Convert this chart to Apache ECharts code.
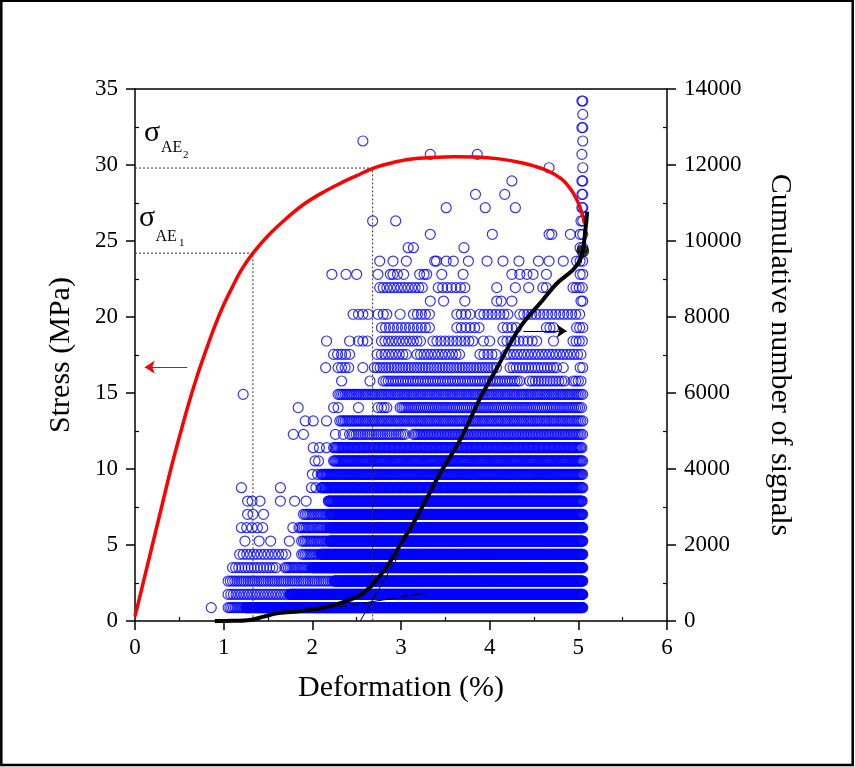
<!DOCTYPE html>
<html>
<head>
<meta charset="utf-8">
<script src="https://cdn.jsdelivr.net/npm/echarts@6.0.0/dist/echarts.min.js"></script>
<style>
html, body { margin: 0; padding: 0; background: #fff; }
#chart { width: 855px; height: 767px; }
</style>
</head>
<body>
<div id="chart"></div>
<script>
// stress-deformation curve (left axis, MPa)
const stressX = [0, 0.1, 0.2, 0.3, 0.4, 0.5, 0.6, 0.7, 0.8, 0.9, 1.0, 1.1, 1.2, 1.33, 1.5, 1.7, 1.9, 2.09, 2.3, 2.5, 2.69, 2.9, 3.1, 3.35, 3.6, 3.85, 4.08, 4.3, 4.45, 4.6, 4.72, 4.83, 4.92, 4.98, 5.02, 5.05, 5.07];
const stressY = [0.3, 2.7, 5.1, 7.5, 9.9, 12.1, 14.2, 16.1, 17.8, 19.4, 20.8, 22.0, 23.1, 24.2, 25.35, 26.45, 27.4, 28.1, 28.75, 29.3, 29.8, 30.15, 30.38, 30.5, 30.55, 30.52, 30.42, 30.22, 30.02, 29.75, 29.42, 28.98, 28.35, 27.75, 27.2, 26.65, 26.15];

// cumulative number of AE signals (right axis)
const cumX = [0.9, 1.1, 1.3, 1.45, 1.6, 1.79, 2.09, 2.31, 2.54, 2.69, 2.84, 2.99, 3.18, 3.44, 3.67, 3.89, 4.08, 4.34, 4.6, 4.76, 4.94, 5.02, 5.05, 5.08, 5.1];
const cumY = [0, 5, 26, 115, 200, 245, 335, 465, 684, 992, 1430, 2000, 2745, 3880, 4780, 5850, 6650, 7720, 8449, 8888, 9238, 9502, 9738, 10300, 10772];

// discrete signal levels (left axis units), level 1 .. 39
const signalLevels = [0.88, 1.75, 2.63, 3.51, 4.39, 5.26, 6.14, 7.02, 7.89, 8.77, 9.65, 10.53, 11.40, 12.28, 13.16, 14.04, 14.91, 15.79, 16.67, 17.54, 18.42, 19.30, 20.18, 21.05, 21.93, 22.81, 23.68, 24.56, 25.44, 26.32, 27.19, 28.07, 28.95, 29.82, 30.70, 31.58, 32.46, 33.33, 34.21];

// crowded runs of signals: [level, from x, to x, observed spacing]
const denseBands = [
  [1, 1.05, 1.25, 0.02], [1, 1.25, 5.05, 0.005],
  [2, 1.05, 1.75, 0.03], [2, 1.75, 5.05, 0.005],
  [3, 1.05, 2.25, 0.025], [3, 2.25, 5.05, 0.005],
  [4, 1.10, 1.60, 0.035], [4, 1.69, 2.0, 0.02], [4, 2.0, 5.05, 0.005],
  [5, 1.18, 1.71, 0.04], [5, 1.88, 2.1, 0.02], [5, 2.1, 5.05, 0.005],
  [6, 1.88, 2.2, 0.02], [6, 2.2, 5.05, 0.006],
  [7, 1.20, 1.46, 0.06], [7, 1.85, 2.2, 0.02], [7, 2.2, 5.05, 0.006],
  [8, 1.90, 2.2, 0.02], [8, 2.2, 5.05, 0.007],
  [9, 2.18, 5.05, 0.008],
  [10, 2.10, 5.05, 0.01],
  [11, 2.10, 5.05, 0.011],
  [12, 2.24, 5.05, 0.012],
  [13, 2.24, 5.05, 0.014],
  [14, 2.42, 3.06, 0.025], [14, 3.14, 5.05, 0.018],
  [15, 2.31, 5.05, 0.02],
  [16, 2.78, 2.84, 0.03], [16, 2.99, 5.05, 0.022],
  [17, 2.29, 5.05, 0.02],
  [18, 2.80, 4.34, 0.028], [18, 4.45, 4.87, 0.033], [18, 4.94, 5.05, 0.03],
  [19, 2.29, 2.42, 0.04], [19, 2.70, 4.08, 0.032], [19, 4.23, 4.76, 0.035],
  [20, 2.24, 2.42, 0.045], [20, 2.78, 3.06, 0.04], [20, 3.18, 3.67, 0.04], [20, 3.89, 4.08, 0.045], [20, 4.19, 5.05, 0.04],
  [21, 2.52, 2.63, 0.05], [21, 2.78, 3.25, 0.04], [21, 3.36, 3.82, 0.045], [21, 4.15, 4.34, 0.045], [21, 4.38, 4.53, 0.05], [21, 4.94, 5.05, 0.035],
  [22, 2.78, 3.36, 0.045], [22, 3.63, 3.89, 0.05], [22, 4.15, 4.34, 0.05], [22, 4.64, 4.72, 0.04], [22, 4.98, 5.05, 0.035],
  [23, 3.14, 3.33, 0.045], [23, 3.63, 3.78, 0.05], [23, 3.89, 4.23, 0.045], [23, 4.34, 5.05, 0.045],
  [25, 2.76, 3.25, 0.04], [25, 3.42, 3.74, 0.05], [25, 4.94, 5.05, 0.035]
];

// single signals: [level, x values]
const sparseHits = [
  [1, [0.86]],
  [6, [1.24, 1.40, 1.53, 1.74]],
  [7, [1.78]],
  [8, [1.27, 1.33, 1.45]],
  [9, [1.27, 1.32, 1.41, 1.64, 1.80, 1.93]],
  [10, [1.20, 1.64, 1.99, 2.04]],
  [11, [2.00, 2.06]],
  [12, [2.03, 2.07]],
  [13, [2.01, 2.08, 2.16]],
  [14, [1.785, 1.90, 2.26, 2.35]],
  [15, [1.92, 2.01, 2.16]],
  [16, [1.84, 2.24, 2.29, 2.52, 2.74]],
  [17, [1.22]],
  [18, [2.33, 2.65]],
  [19, [2.15, 2.57, 4.83, 5.02, 5.05]],
  [20, [2.73]],
  [21, [2.16, 2.42, 3.93, 4.00, 4.72]],
  [23, [2.46, 2.52, 2.57, 2.63, 2.74, 2.80, 2.84, 2.99]],
  [24, [3.33, 3.48, 3.72, 4.08, 4.13, 4.25, 5.03, 5.05]],
  [25, [4.08, 4.29, 4.44, 4.60, 4.64]],
  [26, [2.22, 2.38, 2.50, 2.74, 2.88, 2.91, 2.96, 3.03, 3.21, 3.26, 3.29, 3.46, 3.70, 4.25, 4.34, 4.42, 4.49, 4.64, 5.02, 5.05]],
  [27, [2.76, 2.91, 3.06, 3.38, 3.40, 3.51, 3.59, 3.76, 3.97, 4.15, 4.33, 4.55, 4.67, 4.83, 4.98, 5.02, 5.05]],
  [28, [3.08, 3.14, 3.71, 5.02, 5.05]],
  [29, [3.33, 4.03, 4.67, 4.70, 4.91, 5.02, 5.05]],
  [30, [2.68, 2.94, 5.03, 5.05]],
  [31, [3.51, 3.95, 4.29, 5.04, 5.05]],
  [32, [3.84, 4.17, 5.04, 5.05]],
  [33, [4.25, 5.04, 5.05]],
  [34, [4.67, 5.05]],
  [35, [3.33, 3.86, 5.04]],
  [36, [2.57, 5.05]],
  [37, [5.04, 5.05]],
  [38, [5.05]],
  [39, [5.04, 5.05]]
];

// characteristic stresses and the tangent construction
const sigmaAE1 = [1.33, 24.2];
const sigmaAE2 = [2.68, 29.8];
const tangentSteep = [[2.54, 0], [2.99, 1790]];
const tangentFlat = [[2.3, 370], [3.3, 740]];
const turnPoint = [5.05, 9738];

const hitPoints = [];
denseBands.forEach(([lv, x0, x1, gap]) => {
  for (let x = x0; x <= x1 + 1e-9; x += gap) {
    hitPoints.push([+x.toFixed(4), signalLevels[lv - 1]]);
  }
});
sparseHits.forEach(([lv, xs]) => {
  xs.forEach(x => hitPoints.push([x, signalLevels[lv - 1]]));
});

const serif = 'Liberation Serif';
const tickFont = { fontFamily: serif, fontSize: 23, color: '#000' };
const nameFont = { fontFamily: serif, fontSize: 30, color: '#000' };
const axLine = { show: true, onZero: false, lineStyle: { color: '#000', width: 1.5 } };
const noAxLine = { show: false };

const chart = echarts.init(document.getElementById('chart'));
chart.setOption({
  animation: false,
  backgroundColor: '#fff',
  textStyle: { fontFamily: serif },
  grid: [
    { left: 135, right: 188, top: 89, bottom: 146 },
    { left: 179.33, right: 232.33, top: 89, bottom: 146 },
    { left: 135, right: 188, top: 127, bottom: 184 }
  ],
  xAxis: [
    {
      gridIndex: 0, type: 'value', position: 'bottom', min: 0, max: 6, interval: 1,
      name: 'Deformation (%)', nameLocation: 'middle', nameGap: 52, nameTextStyle: nameFont,
      axisLine: axLine,
      axisTick: { show: true, inside: false, length: 9, lineStyle: { color: '#000', width: 1.5 } },
      axisLabel: Object.assign({ margin: 15 }, tickFont),
      splitLine: { show: false }
    },
    {
      gridIndex: 0, type: 'value', position: 'top', min: 0, max: 6,
      axisLine: axLine, axisTick: { show: false }, axisLabel: { show: false }, splitLine: { show: false }
    },
    {
      gridIndex: 1, type: 'value', position: 'bottom', min: 0.5, max: 5.5, interval: 1,
      axisLine: noAxLine,
      axisTick: { show: true, inside: true, length: 4, lineStyle: { color: '#000', width: 1.2 } },
      axisLabel: { show: false }, splitLine: { show: false }
    },
    { gridIndex: 2, type: 'value', show: false, min: 0, max: 1 }
  ],
  yAxis: [
    {
      gridIndex: 0, type: 'value', position: 'left', min: 0, max: 35, interval: 5,
      name: 'Stress (MPa)', nameLocation: 'middle', nameGap: 59, nameRotate: 90, nameTextStyle: nameFont,
      axisLine: axLine,
      axisTick: { show: true, inside: false, length: 9, lineStyle: { color: '#000', width: 1.5 } },
      axisLabel: Object.assign({ margin: 17 }, tickFont),
      splitLine: { show: false }
    },
    {
      gridIndex: 0, type: 'value', position: 'right', min: 0, max: 14000, interval: 2000,
      name: 'Cumulative number of signals', nameLocation: 'middle', nameGap: 98, nameRotate: -90, nameTextStyle: nameFont,
      axisLine: axLine,
      axisTick: { show: true, inside: false, length: 9, lineStyle: { color: '#000', width: 1.5 } },
      axisLabel: Object.assign({ margin: 17, formatter: v => String(v) }, tickFont),
      splitLine: { show: false }
    },
    { gridIndex: 1, type: 'value', show: false, min: 0, max: 1 },
    {
      gridIndex: 2, type: 'value', position: 'left', min: 2.5, max: 32.5, interval: 5,
      axisLine: noAxLine,
      axisTick: { show: true, inside: true, length: 4, lineStyle: { color: '#000', width: 1.2 } },
      axisLabel: { show: false }, splitLine: { show: false }
    },
    {
      gridIndex: 2, type: 'value', position: 'right', min: 1000, max: 13000, interval: 2000,
      axisLine: noAxLine,
      axisTick: { show: true, inside: true, length: 4, lineStyle: { color: '#000', width: 1.2 } },
      axisLabel: { show: false }, splitLine: { show: false }
    }
  ],
  graphic: [
    {
      type: 'rect', z: -10, silent: true,
      shape: { x: 1.3, y: 0.8, width: 851.4, height: 764.2 },
      style: { fill: 'transparent', stroke: '#000', lineWidth: 2.5 }
    },
    { type: 'text', silent: true, style: { x: 144, y: 133.5, text: 'σ', font: '30px "Liberation Serif"', fill: '#000', verticalAlign: 'middle' } },
    { type: 'text', silent: true, style: { x: 161, y: 148, text: 'AE', font: '16px "Liberation Serif"', fill: '#000', verticalAlign: 'middle' } },
    { type: 'text', silent: true, style: { x: 183, y: 155.5, text: '2', font: '11px "Liberation Serif"', fill: '#000', verticalAlign: 'middle' } },
    { type: 'text', silent: true, style: { x: 139, y: 218.5, text: 'σ', font: '30px "Liberation Serif"', fill: '#000', verticalAlign: 'middle' } },
    { type: 'text', silent: true, style: { x: 155.5, y: 237, text: 'AE', font: '16px "Liberation Serif"', fill: '#000', verticalAlign: 'middle' } },
    { type: 'text', silent: true, style: { x: 179, y: 243.5, text: '1', font: '11px "Liberation Serif"', fill: '#000', verticalAlign: 'middle' } }
  ],
  series: [
    {
      name: 'AE signals', type: 'scatter', xAxisIndex: 0, yAxisIndex: 0,
      data: hitPoints, symbol: 'circle', symbolSize: 10,
      itemStyle: { color: 'rgba(0,0,0,0)', borderColor: '#0000ff', borderWidth: 1.2 },
      large: false, progressive: 0, silent: true, z: 2
    },
    {
      type: 'line', xAxisIndex: 0, yAxisIndex: 0, silent: true, symbol: 'none', z: 3,
      data: [[0, sigmaAE1[1]], sigmaAE1, [sigmaAE1[0], 0]],
      lineStyle: { color: '#333', width: 1, type: [2, 2] }
    },
    {
      type: 'line', xAxisIndex: 0, yAxisIndex: 0, silent: true, symbol: 'none', z: 3,
      data: [[0, sigmaAE2[1]], sigmaAE2, [sigmaAE2[0], 0]],
      lineStyle: { color: '#333', width: 1, type: [2, 2] }
    },
    {
      type: 'line', xAxisIndex: 0, yAxisIndex: 1, silent: true, symbol: 'none', z: 3,
      data: tangentSteep, lineStyle: { color: '#000', width: 1 }
    },
    {
      type: 'line', xAxisIndex: 0, yAxisIndex: 1, silent: true, symbol: 'none', z: 3,
      data: tangentFlat, lineStyle: { color: '#000', width: 1 }
    },
    {
      name: 'Stress', type: 'line', xAxisIndex: 0, yAxisIndex: 0,
      data: stressX.map((x, i) => [x, stressY[i]]),
      smooth: 0.35, symbol: 'none', silent: true, z: 4,
      lineStyle: { color: '#ff0000', width: 3.5 },
      markLine: {
        silent: true, symbol: ['none', 'arrow'], symbolSize: 10,
        label: { show: false },
        lineStyle: { color: '#ff0000', width: 1, type: 'solid' },
        data: [[{ coord: [0.59, 16.7] }, { coord: [0.11, 16.7] }]]
      }
    },
    {
      name: 'Cumulative', type: 'line', xAxisIndex: 0, yAxisIndex: 1,
      data: cumX.map((x, i) => [x, cumY[i]]),
      smooth: 0.35, symbol: 'none', silent: true, z: 5,
      lineStyle: { color: '#000', width: 4 },
      markLine: {
        silent: true, symbol: ['none', 'arrow'], symbolSize: 10,
        label: { show: false },
        lineStyle: { color: '#000', width: 1, type: 'solid' },
        data: [[{ coord: [4.38, 7630] }, { coord: [4.87, 7630] }]]
      }
    },
    {
      type: 'scatter', xAxisIndex: 0, yAxisIndex: 1, silent: true, z: 6,
      data: [turnPoint], symbol: 'circle', symbolSize: 13,
      itemStyle: { color: '#000' }
    }
  ]
});
</script>
</body>
</html>
